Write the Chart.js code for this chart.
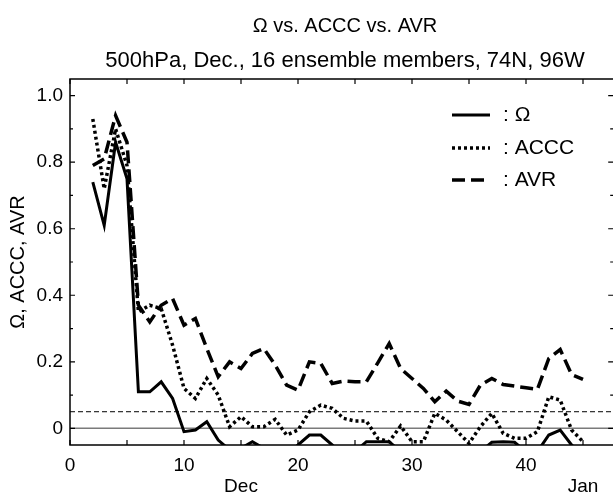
<!DOCTYPE html>
<html>
<head>
<meta charset="utf-8">
<script src="https://cdn.jsdelivr.net/npm/chart.js@4.4.1/dist/chart.umd.min.js"></script>
<style>
  html, body { margin: 0; padding: 0; background: #fff; overflow: hidden; }
  #wrap { position: relative; width: 620px; height: 496px; }
</style>
</head>
<body>
<div id="wrap"><canvas id="c"></canvas></div>
<script>
// days of December (x axis), one value per day
const DAYS = [2, 3, 4, 5, 6, 7, 8, 9, 10, 11, 12, 13, 14, 15, 16, 17, 18, 19, 20, 21, 22, 23,
  24, 25, 26, 27, 28, 29, 30, 31, 32, 33, 34, 35, 36, 37, 38, 39, 40, 41, 42, 43, 44, 45];

const OMEGA = [0.74, 0.61, 0.86, 0.75, 0.11, 0.11, 0.14, 0.09, -0.01, -0.005, 0.02, -0.035,
  -0.065, -0.06, -0.04, -0.06, -0.08, -0.08, -0.05, -0.02, -0.02, -0.05, -0.08, -0.07,
  -0.04, -0.04, -0.04, -0.07, -0.08, -0.09, -0.09, -0.08, -0.08, -0.08, -0.07, -0.042,
  -0.04, -0.042, -0.07, -0.07, -0.02, -0.005, -0.05, -0.08];

const ACCC = [0.93, 0.72, 0.90, 0.79, 0.35, 0.37, 0.36, 0.25, 0.12, 0.09, 0.15, 0.10,
  0.005, 0.035, 0.005, 0.005, 0.027, -0.02, -0.005, 0.05, 0.07, 0.06, 0.03, 0.022,
  0.022, -0.03, -0.04, 0.007, -0.04, -0.04, 0.045, 0.025, -0.01, -0.045, 0.005, 0.045,
  -0.015, -0.03, -0.03, -0.01, 0.095, 0.085, -0.005, -0.04];

const AVR = [0.79, 0.81, 0.94, 0.86, 0.37, 0.32, 0.37, 0.39, 0.31, 0.33, 0.24, 0.155,
  0.20, 0.18, 0.225, 0.24, 0.19, 0.13, 0.115, 0.20, 0.195, 0.135, 0.142, 0.14,
  0.14, 0.197, 0.255, 0.18, 0.15, 0.12, 0.08, 0.112, 0.082, 0.072, 0.13, 0.15,
  0.132, 0.127, 0.122, 0.117, 0.21, 0.237, 0.162, 0.147];

const ZERO_LINE = 0;
const THRESHOLD = 0.05;

const X_MIN = 0, X_MAX = 48;
const Y_MIN = -0.05, Y_MAX = 1.05;

const X_TICK_VALUES = [0, 5, 10, 15, 20, 25, 30, 35, 40, 45];
const X_TICK_LABELS = ['0', '', '10', '', '20', '', '30', '', '40', ''];
const Y_TICK_VALUES = [0, 0.1, 0.2, 0.3, 0.4, 0.5, 0.6, 0.7, 0.8, 0.9, 1.0];
const Y_TICK_LABELS = ['0', '', '0.2', '', '0.4', '', '0.6', '', '0.8', '', '1.0'];
const MONTH_TICKS = [15, 45];
const MONTH_LABELS = ['Dec', 'Jan'];

const TITLE = 'Ω vs. ACCC vs. AVR';
const SUBTITLE = '500hPa, Dec., 16 ensemble members, 74N, 96W';
const Y_TITLE = 'Ω, ACCC, AVR';
const LEGEND_TEXT = [': Ω', ': ACCC', ': AVR'];

const FONT = "'Liberation Sans', Arial, Helvetica, sans-serif";

function points(values) {
  return DAYS.map((d, i) => ({ x: d, y: values[i] }));
}

function flat(y) {
  return [{ x: X_MIN, y: y }, { x: X_MAX, y: y }];
}

// frame, inward ticks, titles and the little legend in the corner
const decorations = {
  id: 'decorations',
  afterDraw(chart) {
    const { ctx, chartArea: a, scales } = chart;
    const xs = scales.x, ys = scales.y;
    ctx.save();

    ctx.strokeStyle = '#000';
    ctx.lineWidth = 1.5;
    ctx.strokeRect(a.left, a.top, a.right - a.left, a.bottom - a.top);

    ctx.lineWidth = 1.2;
    ctx.beginPath();
    X_TICK_VALUES.forEach(v => {
      const px = xs.getPixelForValue(v);
      ctx.moveTo(px, a.bottom); ctx.lineTo(px, a.bottom - 5);
      ctx.moveTo(px, a.top); ctx.lineTo(px, a.top + 5);
    });
    Y_TICK_VALUES.forEach((v, i) => {
      const py = ys.getPixelForValue(v);
      const len = Y_TICK_LABELS[i] ? 5 : 3;
      ctx.moveTo(a.left, py); ctx.lineTo(a.left + len, py);
      ctx.moveTo(a.right, py); ctx.lineTo(a.right - len - 4, py);
    });
    ctx.stroke();

    ctx.fillStyle = '#000';
    ctx.textAlign = 'center';
    ctx.textBaseline = 'middle';
    ctx.font = '20px ' + FONT;
    ctx.fillText(TITLE, 345, 26);
    ctx.font = '22px ' + FONT;
    ctx.fillText(SUBTITLE, 345, 61);

    ctx.font = '19px ' + FONT;
    MONTH_TICKS.forEach((v, i) => {
      ctx.fillText(MONTH_LABELS[i], xs.getPixelForValue(v), 487);
    });

    ctx.font = '20px ' + FONT;
    ctx.save();
    ctx.translate(18, (a.top + a.bottom) / 2);
    ctx.rotate(-Math.PI / 2);
    ctx.fillText(Y_TITLE, 0, 0);
    ctx.restore();

    // legend
    const rows = [115, 148, 180];
    ctx.font = '21px ' + FONT;
    ctx.textAlign = 'left';
    [0, 1, 2].forEach(i => {
      const ds = chart.data.datasets[i];
      ctx.save();
      ctx.strokeStyle = ds.borderColor;
      ctx.lineWidth = ds.borderWidth;
      ctx.lineCap = 'butt';
      ctx.setLineDash(ds.borderDash || []);
      ctx.beginPath();
      ctx.moveTo(452, rows[i]);
      ctx.lineTo(490, rows[i]);
      ctx.stroke();
      ctx.restore();
      ctx.fillText(LEGEND_TEXT[i], 503, rows[i]);
    });

    ctx.restore();
  }
};

new Chart(document.getElementById('c'), {
  type: 'line',
  data: {
    datasets: [
      { label: 'Ω', data: points(OMEGA), borderColor: '#000', borderWidth: 3,
        pointRadius: 0, tension: 0, order: 1 },
      { label: 'ACCC', data: points(ACCC), borderColor: '#000', borderWidth: 3.5,
        borderDash: [3, 3], borderCapStyle: 'butt', pointRadius: 0, tension: 0, order: 2 },
      { label: 'AVR', data: points(AVR), borderColor: '#000', borderWidth: 3.5,
        borderDash: [13, 6], borderCapStyle: 'butt', pointRadius: 0, tension: 0, order: 3 },
      { label: 'zero', data: flat(ZERO_LINE), borderColor: '#7a7a7a', borderWidth: 1.5,
        pointRadius: 0, order: 5 },
      { label: 'threshold', data: flat(THRESHOLD), borderColor: '#000', borderWidth: 1,
        borderDash: [5, 3], pointRadius: 0, order: 4 }
    ]
  },
  options: {
    responsive: true,
    maintainAspectRatio: false,
    animation: false,
    layout: { padding: { top: 79, right: 2.8, left: 0, bottom: 0 } },
    plugins: { legend: { display: false }, tooltip: { enabled: false } },
    scales: {
      x: {
        type: 'linear', min: X_MIN, max: X_MAX,
        grid: { display: false, drawTicks: false },
        border: { display: false },
        afterBuildTicks: s => { s.ticks = X_TICK_VALUES.map(v => ({ value: v })); },
        afterFit: s => { s.height = 51; },
        ticks: {
          autoSkip: false, maxRotation: 0, padding: 9, color: '#000',
          font: { family: FONT, size: 19 },
          callback: v => X_TICK_LABELS[X_TICK_VALUES.indexOf(v)]
        }
      },
      y: {
        type: 'linear', min: Y_MIN, max: Y_MAX,
        grid: { display: false, drawTicks: false },
        border: { display: false },
        afterBuildTicks: s => { s.ticks = Y_TICK_VALUES.map(v => ({ value: v })); },
        afterFit: s => { s.width = 70; },
        ticks: {
          autoSkip: false, padding: 7, color: '#000',
          font: { family: FONT, size: 19 },
          callback: v => Y_TICK_LABELS[Y_TICK_VALUES.findIndex(t => Math.abs(t - v) < 1e-9)]
        }
      }
    }
  },
  plugins: [decorations]
});
</script>
</body>
</html>
